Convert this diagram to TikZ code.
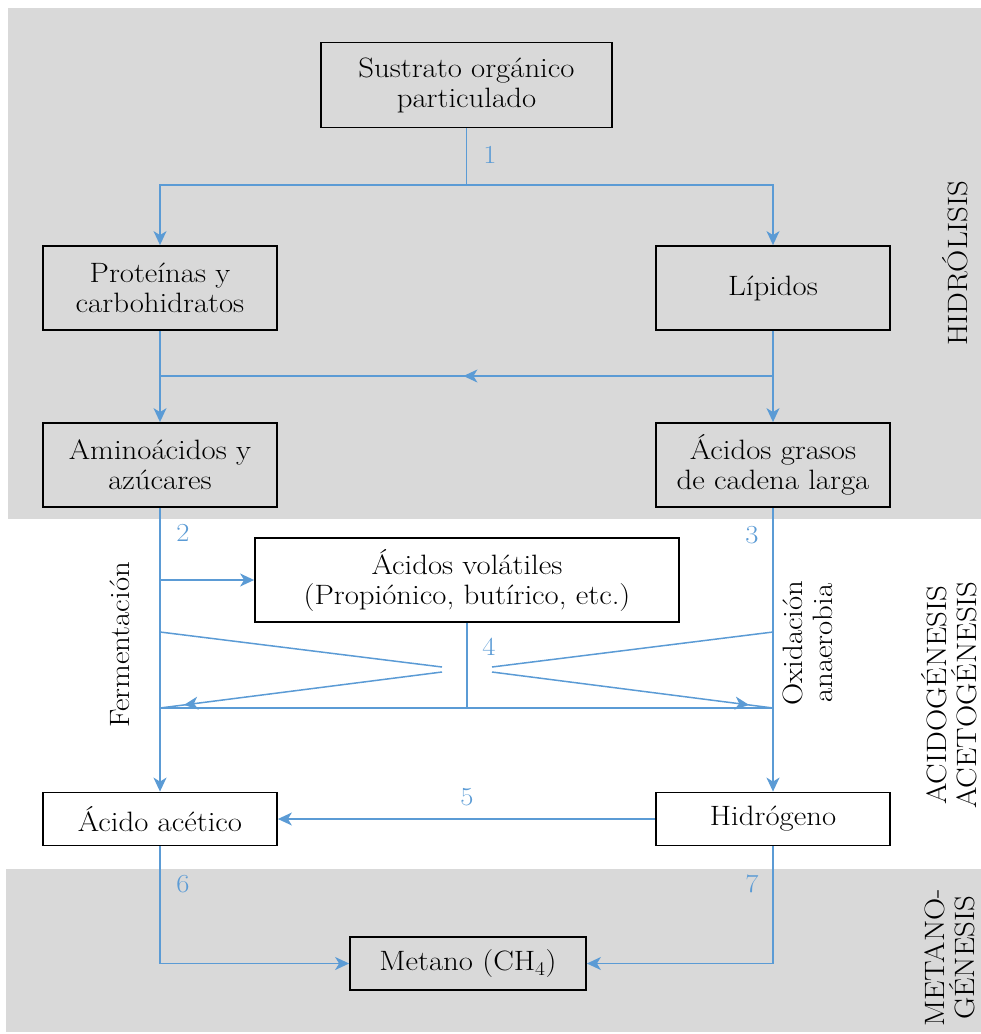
\documentclass[tikz,border=0pt]{standalone}
\usepackage{fontspec}
\setmainfont{lmroman17-regular.otf}[FakeStretch=1.1,
  BoldFont=lmroman10-bold.otf, ItalicFont=lmroman10-italic.otf]
\usetikzlibrary{arrows.meta,decorations.markings}
\definecolor{flow}{HTML}{5B9BD5}
\definecolor{band}{HTML}{D9D9D9}
\newcommand{\txtfont}{\fontsize{28}{30}\selectfont}
\newcommand{\numfont}{\fontsize{26}{28}\selectfont}
\begin{document}
\begin{tikzpicture}[x=1pt,y=-1pt,
  box/.style={draw=black, line width=1.8pt, align=center, inner sep=0pt,
    minimum width=234pt, minimum height=84pt, font=\txtfont},
  lowbox/.style={box, minimum height=53pt},
  flowline/.style={draw=flow, line width=1.5pt},
  tipped/.style={-{Stealth[length=14pt,width=13pt,inset=4pt]}},
  midtip/.style={postaction={decorate}, decoration={markings,
    mark=at position #1 with {\arrow{Stealth[length=14pt,width=13pt,inset=4pt]}}}},
  num/.style={text=flow, font=\numfont, inner sep=0pt},
  side/.style={rotate=90, align=center, font=\txtfont, inner sep=0pt}]

\useasboundingbox (0,0) rectangle (981,1034);

% stage bands
\fill[band] (8,8) rectangle (981,519);
\fill[band] (6,869) rectangle (981,1032);

% boxes
\node[box, minimum width=291pt, minimum height=85pt] (sust) at (466.5,85) {Sustrato orgánico\\particulado};
\node[box] (prot) at (160,288) {Proteínas y\\carbohidratos};
\node[box] (lip) at (773,288) {Lípidos};
\node[box] (amino) at (160,465) {Aminoácidos y\\azúcares};
\node[box] (grasos) at (773,465) {Ácidos grasos\\de cadena larga};
\node[box, minimum width=424pt] (vol) at (467,580) {Ácidos volátiles\\(Propiónico, butírico, etc.)};
\node[lowbox] (acet) at (160,819) {Ácido acético};
\node[lowbox] (hidro) at (773,819) {Hidrógeno};
\node[lowbox, minimum width=236pt] (met) at (468,963.5) {Metano (CH\textsubscript{4})};

% junction points
\coordinate (split) at (466.5,185);
\coordinate (jr) at (773,376);
\coordinate (jl) at (160,376);
\coordinate (fv) at (160,580);
\coordinate (vb) at (467,708);
\coordinate (bl) at (160,708);
\coordinate (br) at (773,708);
\coordinate (tl) at (160,632);
\coordinate (tr) at (773,632);
\coordinate (cl1) at (442,667);
\coordinate (cl2) at (442,672);
\coordinate (cr1) at (492,667);
\coordinate (cr2) at (492,672);

% hydrolysis
\draw[flowline] (sust.south) -- (split);
\draw[flowline, tipped] (split) -| (prot.north);
\draw[flowline, tipped] (split) -| (lip.north);
\draw[flowline, tipped] (prot.south) -- (amino.north);
\draw[flowline, tipped] (lip.south) -- (grasos.north);
\draw[flowline, midtip=0.505] (jr) -- (jl);

% acidogenesis / acetogenesis
\draw[flowline, tipped] (amino.south) -- (acet.north);
\draw[flowline, tipped] (grasos.south) -- (hidro.north);
\draw[flowline, tipped] (fv) -- (vol.west);
\draw[flowline] (vol.south) -- (vb);
\draw[flowline] (bl) -- (br);
\draw[flowline] (tl) -- (cl1);
\draw[flowline, midtip=0.915] (cl2) -- (bl);
\draw[flowline] (tr) -- (cr1);
\draw[flowline, midtip=0.915] (cr2) -- (br);
\draw[flowline, tipped] (hidro.west) -- (acet.east);

% methanogenesis
\draw[flowline, tipped] (acet.south) |- (met.west);
\draw[flowline, tipped] (hidro.south) |- (met.east);

% step numbers
\node[num] (n1) at (490,155) {1};
\node[num] (n2) at (183,533) {2};
\node[num] (n3) at (752,535) {3};
\node[num] (n4) at (489,647) {4};
\node[num] (n5) at (467,797) {5};
\node[num] (n6) at (183,884) {6};
\node[num] (n7) at (752,884) {7};

% process labels
\node[side] (ferm) at (120,645) {Fermentación};
\node[side] (oxid) at (808,643) {Oxidación\\anaerobia};

% stage labels
\node[side] (st1) at (955,263) {HIDRÓLISIS};
\node[side] (st2) at (949,695) {ACIDOGÉNESIS\\ACETOGÉNESIS};
\node[side] (st3) at (950,958) {METANO-\\GÉNESIS};
\end{tikzpicture}
\end{document}
